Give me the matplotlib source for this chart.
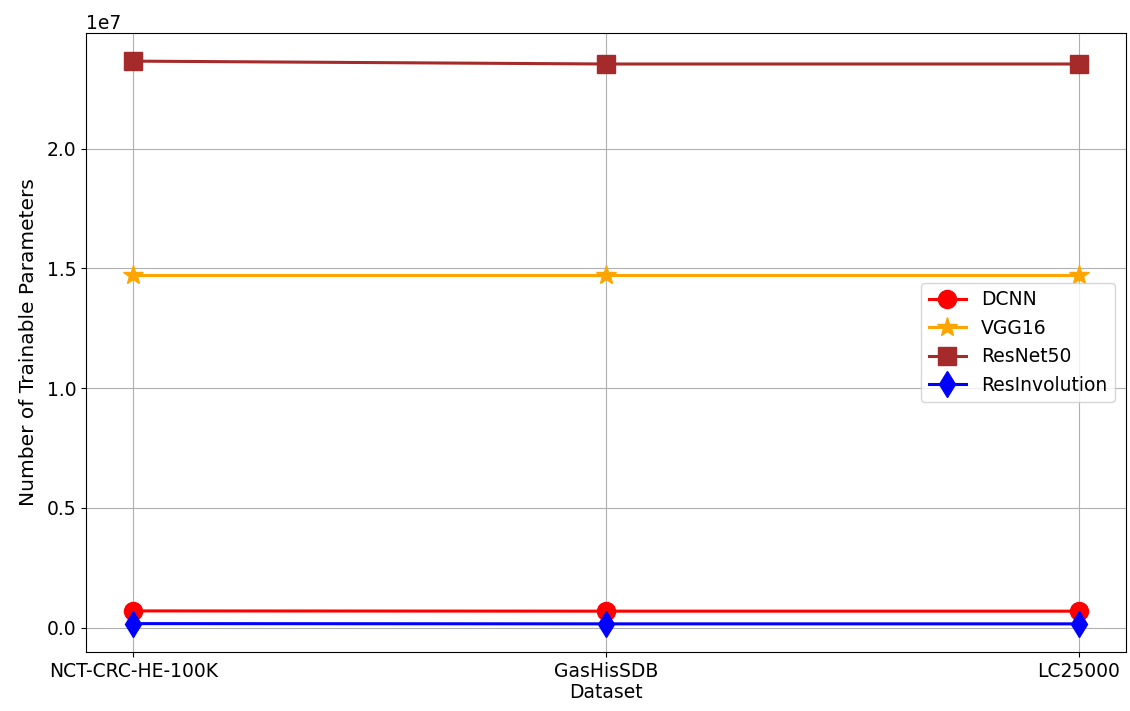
import matplotlib
matplotlib.use("Agg")
import matplotlib.pyplot as plt

datasets = ["NCT-CRC-HE-100K", "GasHisSDB", "LC25000"]
dcnn = [0.70e6, 0.69e6, 0.69e6]
vgg16 = [14.72e6, 14.72e6, 14.72e6]
resnet50 = [23.66e6, 23.54e6, 23.54e6]
resinvolution = [0.17e6, 0.16e6, 0.16e6]

plt.rcParams["font.size"] = 13.5

fig, ax = plt.subplots(figsize=(11.3, 7.11), dpi=100)
fig.subplots_adjust(left=0.076, right=0.9965, top=0.9536, bottom=0.083)

ax.plot(datasets, dcnn, marker="o", color="red", markersize=13, linewidth=2.2, label="DCNN")
ax.plot(datasets, vgg16, marker="*", color="orange", markersize=15, linewidth=2.2, label="VGG16")
ax.plot(datasets, resnet50, marker="s", color="brown", markersize=12.5, linewidth=2.2, label="ResNet50")
ax.plot(datasets, resinvolution, marker="d", color="blue", markersize=13, linewidth=2.2, label="ResInvolution")

ax.set_xlabel("Dataset", labelpad=2)
ax.set_ylabel("Number of Trainable Parameters", fontsize=14.5, labelpad=6)
ax.grid(True)
ax.legend(loc="center right", borderaxespad=0.6)

fig.savefig("out.png")
